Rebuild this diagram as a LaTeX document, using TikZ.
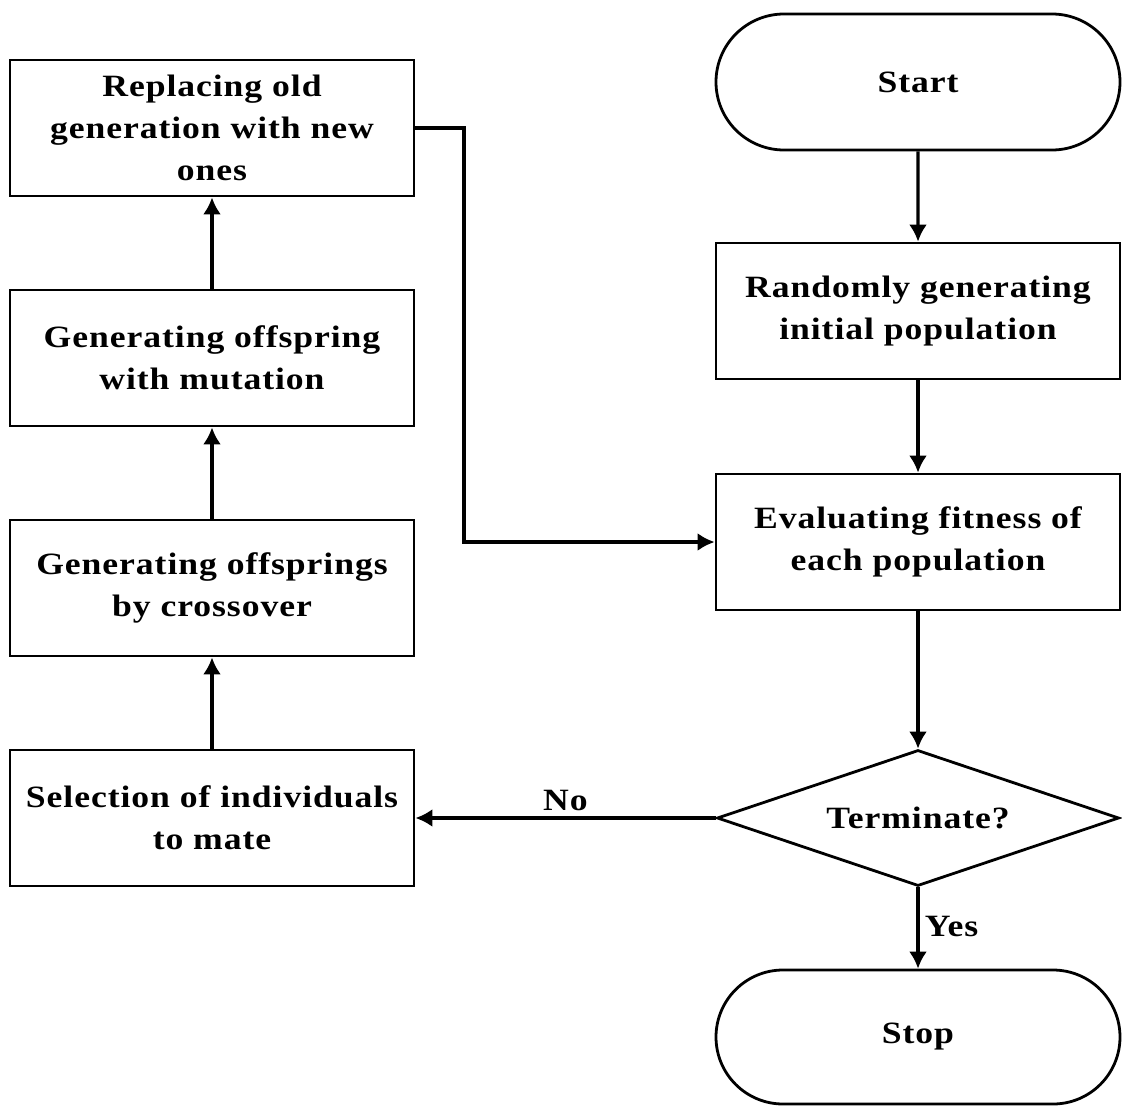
\documentclass[tikz,border=0pt]{standalone}
\usepackage{fontspec}
\newfontfamily\boxfont{Liberation Serif}[LetterSpace=3,FakeStretch=1.15]
\usetikzlibrary{shapes.geometric,shapes.misc,arrows.meta}
\begin{document}
\begin{tikzpicture}[x=1pt, y=-1pt, >={Latex[length=17pt,width=18pt]},
  box/.style={draw, line width=2.8pt, minimum width=404pt, minimum height=136pt,
  align=center, inner sep=0pt},
  term/.style={box, rounded rectangle},
  decide/.style={box, diamond, aspect=3, minimum width=402pt},
  line/.style={line width=3.2pt},
  font=\boxfont\bfseries\fontsize{31}{42}\selectfont]
   %Rand festlegen
   \useasboundingbox (0,0) rectangle (1122,1106);

%rechte Spalte
\node[term] (start) at (918,82) {Start};
\node[box] (rand) at (918,311) {Randomly generating\\initial population};
\node[box] (eval) at (918,542) {Evaluating fitness of\\each population};
\node[decide] (test) at (918,818) {Terminate?};
\node[term, minimum height=134pt] (stop) at (918,1037) {Stop};

%linke Spalte
\node[box] (repl) at (212,128) {Replacing old\\generation with new\\ones};
\node[box] (mut) at (212,358) {Generating offspring\\with mutation};
\node[box] (cross) at (212,588) {Generating offsprings\\by crossover};
\node[box] (sel) at (212,818) {Selection of individuals\\to mate};

\coordinate (back) at (464,128);
%Pfeile
\draw[line, ->] (start) -- (rand);
\draw[line, ->] (rand) -- (eval);
\draw[line, ->] (eval) -- (test);
\draw[line, ->] (test) -- node[right, xshift=2pt, yshift=2pt]{Yes} (stop);
\draw[line, ->] (test) -- node[above, yshift=2pt]{No} (sel);
\draw[line, ->] (sel) -- (cross);
\draw[line, ->] (cross) -- (mut);
\draw[line, ->] (mut) -- (repl);
\draw[line, ->] (repl.east) -- (back) |- (eval.west);
\end{tikzpicture}
\end{document}
